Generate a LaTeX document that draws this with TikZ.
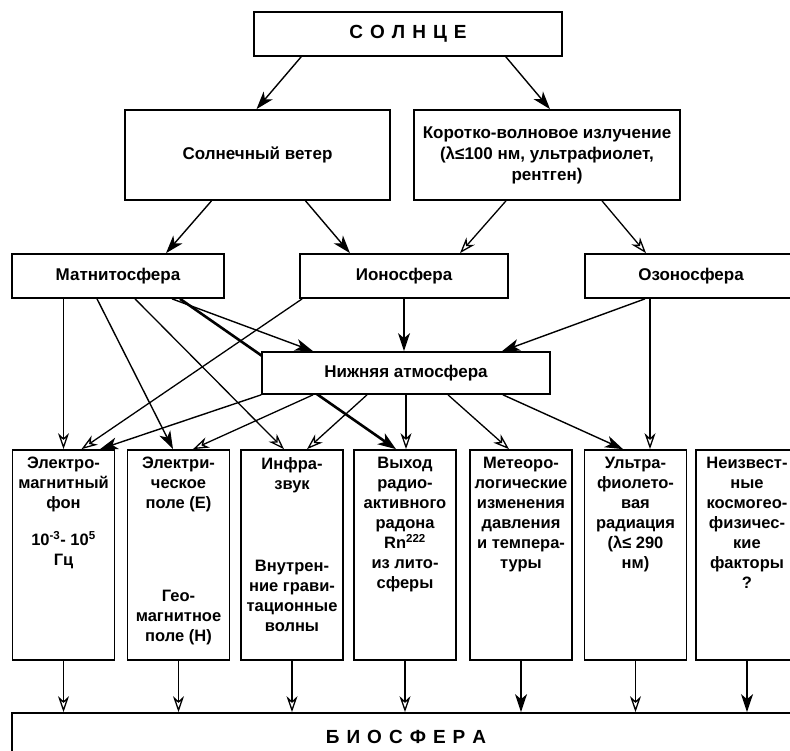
\documentclass[tikz,border=0pt]{standalone}
\usepackage{fontspec}
\setmainfont{Liberation Sans}
\usepackage{tikz}
\usetikzlibrary{arrows.meta, positioning, calc, backgrounds}
\newcommand{\lsp}{\hspace{0.37em}}
\tikzset{
  topbox/.style={draw, fill=white, line width=1.7pt, inner sep=0,
                 align=center, font=\bfseries\fontsize{17}{21}\selectfont},
  factbox/.style={draw, fill=white, line width=1.7pt, inner sep=0,
                  minimum width=102pt, minimum height=210pt},
  facttext/.style={anchor=north, inner sep=0, align=center,
                   font=\bfseries\fontsize{16.5}{20}\selectfont},
  titletext/.style={font=\bfseries\fontsize{19}{22}\selectfont},
  farrow/.style={-{Stealth[length=18pt, width=12pt, inset=5pt]}, line width=1.4pt},
  oarrow/.style={-{Stealth[open, length=16pt, width=11pt, inset=5pt]}, line width=1.3pt},
  tarrow/.style={-{Stealth[length=18pt, width=13pt, inset=5pt]}, line width=2.6pt},
}

\begin{document}
\begin{tikzpicture}[x=1pt, y=-1pt]

  \useasboundingbox (0,0) rectangle (790,751);
  \clip (0,0) rectangle (790,751);

  %% Sun and its two outputs
  \node[topbox, titletext, minimum width=308pt, minimum height=44pt]
    (sun) at (408,34) {С\lsp О\lsp Л\lsp Н\lsp Ц\lsp Е};
  \node[topbox, minimum width=265pt, minimum height=90pt]
    (wind) at (257.5,155) {Солнечный ветер};
  \node[topbox, minimum width=266pt, minimum height=90pt]
    (short) at (547,155) {Коротко-волновое излучение\\(λ≤100 нм, ультрафиолет,\\рентген)};

  %% Spheres
  \node[topbox, minimum width=212pt, minimum height=44pt]
    (magnet) at (118,276) {Матнитосфера};
  \node[topbox, minimum width=208pt, minimum height=44pt]
    (iono) at (404,276) {Ионосфера};
  \node[topbox, minimum width=212pt, minimum height=44pt]
    (ozone) at (691,276) {Озоносфера};
  \node[topbox, minimum width=288pt, minimum height=42pt]
    (lower) at (406,373) {Нижняя атмосфера};

  %% Factors (text top-aligned inside each box)
  \node[factbox] (e1) at (63.5,555) {};
  \node[facttext] (e1t) at ([yshift=-8pt]e1.north)
    {Электро-\\магнитный\\фон\\[17pt]10\textsuperscript{-3}- 10\textsuperscript{5}\\Гц};

  \node[factbox] (e2) at (178.5,555) {};
  \node[facttext] (e2t) at ([yshift=-8pt]e2.north) {Электри-\\ческое\\поле (E)};
  \node[facttext] (e2b) at ([yshift=-141pt]e2.north) {Гео-\\магнитное\\поле (H)};

  \node[factbox] (e3) at (292,555) {};
  \node[facttext] (e3t) at ([yshift=-8pt]e3.north) {Инфра-\\звук};
  \node[facttext] (e3b) at ([yshift=-111pt]e3.north) {Внутрен-\\ние грави-\\тационные\\волны};

  \node[factbox] (e4) at (405,555) {};
  \node[facttext] (e4t) at ([yshift=-8pt]e4.north)
    {Выход\\радио-\\активного\\радона\\Rn\textsuperscript{222}\\из лито-\\сферы};

  \node[factbox] (e5) at (521,555) {};
  \node[facttext] (e5t) at ([yshift=-8pt]e5.north)
    {Метеоро-\\логические\\изменения\\давления\\и темпера-\\туры};

  \node[factbox] (e6) at (635.5,555) {};
  \node[facttext] (e6t) at ([yshift=-8pt]e6.north)
    {Ультра-\\фиолето-\\вая\\радиация\\(λ≤ 290\\нм)};

  \node[factbox] (e7) at (747,555) {};
  \node[facttext] (e7t) at ([yshift=-8pt]e7.north)
    {Неизвест-\\ные\\космогео-\\физичес-\\кие\\факторы\\?};

  %% Biosphere (runs past the right and bottom edges)
  \node[topbox, titletext, minimum width=788pt, minimum height=48pt]
    (bio) at (406,737) {Б\lsp И\lsp О\lsp С\lsp Ф\lsp Е\lsp Р\lsp А};

  \begin{pgfonlayer}{background}
    %% Sun -> wind / short-wave
    \draw[farrow] ([xshift=48pt]sun.south west) -- ([xshift=-1pt]wind.north);
    \draw[farrow] ([xshift=-57pt]sun.south east) -- ([xshift=3pt]short.north);
    %% second level
    \draw[farrow] ([xshift=-46pt]wind.south) -- ([xshift=48pt]magnet.north);
    \draw[farrow] ([xshift=48pt]wind.south) -- ([xshift=-54pt]iono.north);
    \draw[oarrow] ([xshift=-41pt]short.south) -- ([xshift=56pt]iono.north);
    \draw[oarrow] ([xshift=55pt]short.south) -- ([xshift=-45pt]ozone.north);

    %% Magnetosphere fan
    \draw[oarrow] (magnet.south -| e1.north) -- (e1.north);
    \draw[farrow] ([xshift=-21pt]magnet.south) -- ([xshift=-5.5pt]e2.north);
    \draw[oarrow] ([xshift=17pt]magnet.south) -- ([xshift=-8pt]e3.north);
    \draw[farrow] ([xshift=54pt]magnet.south) -- ([xshift=-93pt]lower.north);
    \draw[tarrow] ([xshift=62pt]magnet.south) -- ([xshift=-9pt]e4.north);

    %% Ionosphere and ozonosphere
    \draw[oarrow] ([xshift=3pt]iono.south west) -- ([xshift=18pt]e1.north);
    \draw[farrow] (iono.south) -- (iono.south |- lower.north);
    \draw[farrow] ([xshift=-46pt]ozone.south) -- ([xshift=96pt]lower.north);
    \draw[oarrow] ([xshift=-41pt]ozone.south) -- ([xshift=14.5pt]e6.north);

    %% Lower atmosphere fan
    \draw[farrow] (lower.south west) -- ([xshift=36.5pt]e1.north);
    \draw[oarrow] ([xshift=-93pt]lower.south) -- ([xshift=14.5pt]e2.north);
    \draw[oarrow] ([xshift=-39pt]lower.south) -- ([xshift=15pt]e3.north);
    \draw[oarrow] (lower.south) -- (lower.south |- e4.north);
    \draw[oarrow] ([xshift=42pt]lower.south) -- ([xshift=-12pt]e5.north);
    \draw[farrow] ([xshift=97pt]lower.south) -- ([xshift=-12.5pt]e6.north);

    %% Factors -> biosphere
    \draw[oarrow] (e1.south) -- (e1.south |- bio.north);
    \draw[oarrow] (e2.south) -- (e2.south |- bio.north);
    \draw[oarrow] (e3.south) -- (e3.south |- bio.north);
    \draw[oarrow] (e4.south) -- (e4.south |- bio.north);
    \draw[farrow] (e5.south) -- (e5.south |- bio.north);
    \draw[oarrow] (e6.south) -- (e6.south |- bio.north);
    \draw[farrow] (e7.south) -- (e7.south |- bio.north);
  \end{pgfonlayer}

\end{tikzpicture}
\end{document}
